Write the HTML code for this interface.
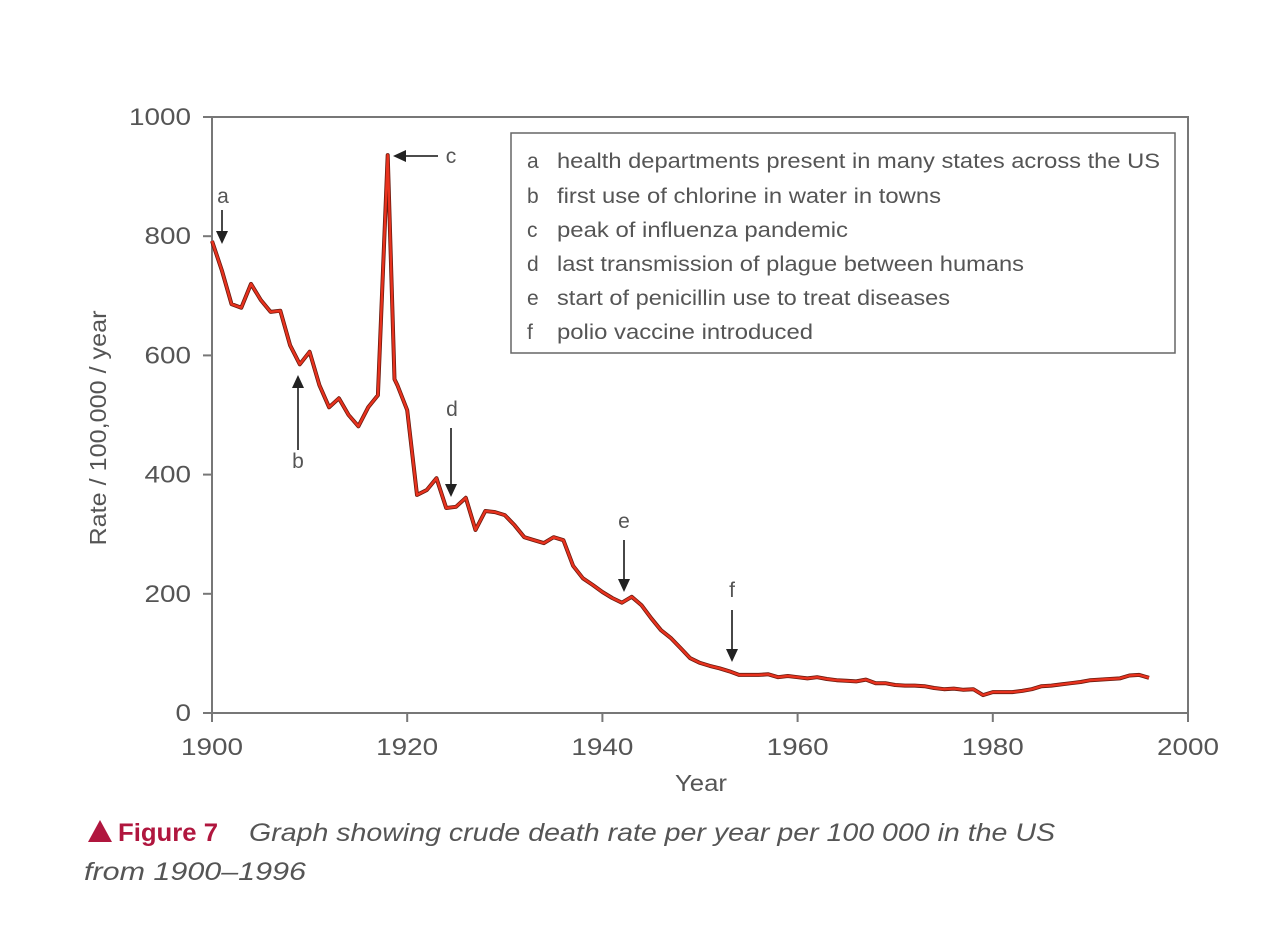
<!DOCTYPE html>
<html><head><meta charset="utf-8"><style>
body{margin:0;background:#fff;}
svg text{font-family:"Liberation Sans",sans-serif;}
</style></head><body>
<svg id="chart" width="1276" height="924" xmlns="http://www.w3.org/2000/svg">
<rect x="0" y="0" width="1276" height="924" fill="#fff"/>
<g id="axes"></g>
<g id="series"></g>
<g id="ann" fill="#555" font-size="21"></g>
<g>
<rect x="511" y="133" width="664" height="220" fill="#fff" stroke="#666" stroke-width="1.5"/>
<g font-size="21" fill="#555" lengthAdjust="spacingAndGlyphs">
<text x="527" y="168">a</text><text x="557" y="168" textLength="603" lengthAdjust="spacingAndGlyphs">health departments present in many states across the US</text>
<text x="527" y="203">b</text><text x="557" y="203" textLength="384" lengthAdjust="spacingAndGlyphs">first use of chlorine in water in towns</text>
<text x="527" y="237">c</text><text x="557" y="237" textLength="291" lengthAdjust="spacingAndGlyphs">peak of influenza pandemic</text>
<text x="527" y="271">d</text><text x="557" y="271" textLength="467" lengthAdjust="spacingAndGlyphs">last transmission of plague between humans</text>
<text x="527" y="305">e</text><text x="557" y="305" textLength="393" lengthAdjust="spacingAndGlyphs">start of penicillin use to treat diseases</text>
<text x="527" y="339">f</text><text x="557" y="339" textLength="256" lengthAdjust="spacingAndGlyphs">polio vaccine introduced</text>
</g></g>
<text x="701" y="791" font-size="23" fill="#555" text-anchor="middle" textLength="52" lengthAdjust="spacingAndGlyphs">Year</text>
<text transform="translate(106,428) rotate(-90)" font-size="23" fill="#555" text-anchor="middle" textLength="235" lengthAdjust="spacingAndGlyphs">Rate / 100,000 / year</text>
<g font-size="25">
<polygon points="88,842 100,820 112,842" fill="#b0163e"/>
<text x="118" y="841" fill="#b0163e" font-weight="bold" textLength="100" lengthAdjust="spacingAndGlyphs">Figure 7</text>
<text x="249" y="841" fill="#555" font-style="italic" textLength="806" lengthAdjust="spacingAndGlyphs">Graph showing crude death rate per year per 100 000 in the US</text>
<text x="84" y="880" fill="#555" font-style="italic" textLength="222" lengthAdjust="spacingAndGlyphs">from 1900–1996</text>
</g>
</svg>
<script>
const years=[1900,1901,1902,1903,1904,1905,1906,1907,1908,1909,1910,1911,1912,1913,1914,1915,1916,1917,1918,1918.7,1919,1920,1921,1922,1923,1924,1925,1926,1927,1928,1929,1930,1931,1932,1933,1934,1935,1936,1937,1938,1939,1940,1941,1942,1943,1944,1945,1946,1947,1948,1949,1950,1951,1952,1953,1954,1955,1956,1957,1958,1959,1960,1961,1962,1963,1964,1965,1966,1967,1968,1969,1970,1971,1972,1973,1974,1975,1976,1977,1978,1979,1980,1981,1982,1983,1984,1985,1986,1987,1988,1989,1990,1991,1992,1993,1994,1995,1996];
const rates=[792,743,686,680,720,693,673,675,617,585,606,550,513,528,500,481,513,533,936,560,550,508,366,374,394,344,346,361,307,339,337,332,315,295,290,285,295,290,247,226,215,203,193,185,195,181,159,139,126,109,92,84,79,75,70,64,64,64,65,60,62,60,58,60,57,55,54,53,56,50,50,47,46,46,45,42,40,41,39,40,30,35,35,35,37,40,45,46,48,50,52,55,56,57,58,63,64,59];
const xTicks=[1900,1920,1940,1960,1980,2000];
const yTicks=[0,200,400,600,800,1000];
const X0=212,X1=1188,Y0=713,Y1=117;
const xs=v=>X0+(v-1900)/100*(X1-X0);
const ys=v=>Y0-v/1000*(Y0-Y1);
const NS='http://www.w3.org/2000/svg';
function mk(t,a,p){const e=document.createElementNS(NS,t);for(const k in a)e.setAttribute(k,a[k]);p.appendChild(e);return e;}
const tl=s=>String(s).length*15.5;
const ax=document.getElementById('axes');
const frame=mk('rect',{x:X0,y:Y1,width:X1-X0,height:Y0-Y1,fill:'none',stroke:'#777','stroke-width':2},ax);


xTicks.forEach(t=>{
 const l=mk('line',{x1:xs(t),x2:xs(t),y1:Y0,y2:Y0+9,stroke:'#777','stroke-width':2},ax);
 
 
 const tx=mk('text',{x:xs(t),y:Y0+42,'font-size':24,fill:'#555','text-anchor':'middle',textLength:tl(t),lengthAdjust:'spacingAndGlyphs'},ax);
 tx.textContent=t;
 
 
});
yTicks.forEach(t=>{
 const l=mk('line',{x1:X0-9,x2:X0,y1:ys(t),y2:ys(t),stroke:'#777','stroke-width':2},ax);
 
 
 const tx=mk('text',{x:X0-21,y:ys(t)+8,'font-size':24,fill:'#555','text-anchor':'end',textLength:tl(t),lengthAdjust:'spacingAndGlyphs'},ax);
 tx.textContent=t;
 
 
});
const sg=document.getElementById('series');
const d=years.map((y,i)=>(i?'L':'M')+xs(y).toFixed(1)+','+ys(rates[i]).toFixed(1)).join(' ');
const under=mk('path',{d:d,fill:'none',stroke:'#6a1a0e','stroke-width':4,'stroke-linejoin':'round'},sg);


const line=mk('path',{d:d,fill:'none',stroke:'#e8321e','stroke-width':2.4,'stroke-linejoin':'round'},sg);


const an=document.getElementById('ann');
function arrow(name,x1,y1,x2,y2,lab,lx,ly){
 const g=mk('g',{},an);
 
 
 const dx=x2-x1,dy=y2-y1,L=Math.hypot(dx,dy),ux=dx/L,uy=dy/L,h=13,w=6;
 mk('line',{x1:x1,y1:y1,x2:x2-ux*h,y2:y2-uy*h,stroke:'#333','stroke-width':1.8},g);
 mk('polygon',{points:`${x2},${y2} ${x2-ux*h-uy*w},${y2-uy*h+ux*w} ${x2-ux*h+uy*w},${y2-uy*h-ux*w}`,fill:'#222'},g);
 const t=mk('text',{x:lx,y:ly,'text-anchor':'middle'},g);t.textContent=lab;
}
arrow('arrow-a',222,210,222,244,'a',223,203);
arrow('arrow-b',298,450,298,375,'b',298,468);
arrow('arrow-c',438,156,393,156,'c',451,163);
arrow('arrow-d',451,428,451,497,'d',452,416);
arrow('arrow-e',624,540,624,592,'e',624,528);
arrow('arrow-f',732,610,732,662,'f',732,597);
</script>
</body></html>
